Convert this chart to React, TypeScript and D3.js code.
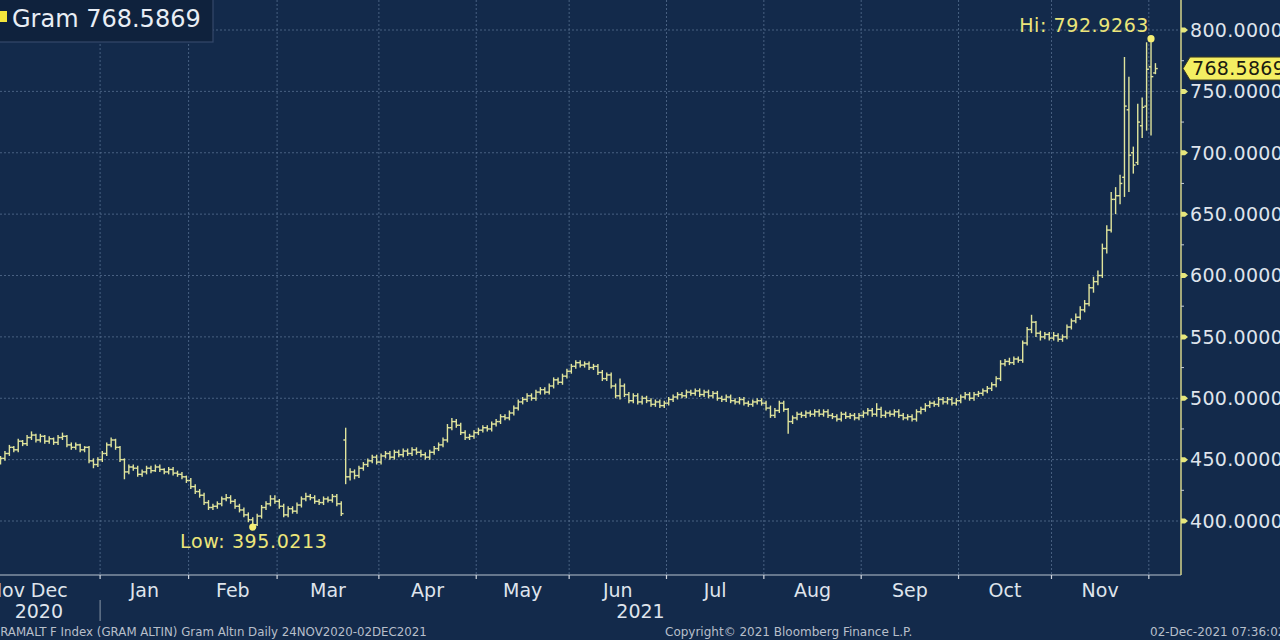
import React from 'react';
import * as d3 from 'd3';

const W = 1280;
const H = 640;

// Trading days (weekdays, Jan 1 2021 excluded) from 24 Nov 2020 to 02 Dec 2021
const tradingDays: Date[] = d3
  .timeDays(new Date(2020, 10, 24), new Date(2021, 11, 3))
  .filter((d) => d.getDay() !== 0 && d.getDay() !== 6 && !(d.getMonth() === 0 && d.getDate() === 1));

const closes = [
  452, 450, 453, 449, 448,
  451, 455, 460, 458, 465, 463, 468, 470, 466, 469, 465, 467, 464, 468, 469, 462, 460, 462, 458, 460, 449, 446, 450,
  455, 462, 466, 460, 450, 440, 444, 443, 438, 440, 443, 441, 444, 442, 440, 442, 439, 438, 436, 433,
  428, 424, 421, 415, 411, 412, 414, 418, 419, 416, 412, 409, 405, 401, 397, 404, 411, 414, 418, 416,
  412, 405, 410, 408, 413, 418, 420, 419, 416, 415, 418, 417, 420, 414, 406, 436, 440, 437, 443, 446, 449, 452, 448,
  453, 455, 452, 456, 454, 457, 455, 458, 456, 454, 452, 456, 459, 462, 466, 476, 481, 478, 472, 468, 469, 472,
  474, 476, 475, 479, 481, 485, 484, 488, 492, 497, 499, 502, 500, 505, 507, 505, 510, 515, 513, 518, 522,
  526, 529, 527, 528, 525, 526, 521, 516, 519, 510, 502, 510, 503, 498, 502, 497, 500, 498, 495, 497, 494, 496,
  499, 501, 503, 502, 505, 504, 506, 503, 505, 502, 504, 500, 499, 501, 498, 497, 499, 496, 495, 497, 498, 496,
  492, 486, 490, 496, 491, 481, 484, 487, 486, 488, 487, 489, 487, 489, 486, 485, 483, 487, 485, 486, 484, 486,
  488, 490, 487, 491, 486, 488, 487, 489, 486, 484, 485, 483, 489, 491, 494, 496, 495, 499, 497, 499, 496, 498,
  501, 503, 500, 503, 504, 506, 508, 511, 516, 528, 530, 529, 532, 531, 545, 556, 562, 553, 550, 552, 549,
  551, 548, 550, 558, 563, 566, 572, 577, 590, 595, 600, 622, 637, 662, 665, 675, 738, 698, 690, 725, 737, 768,
  762, 768.5869,
];

const opens = [
  454, 452, 450, 453, 449,
  448, 451, 455, 460, 458, 465, 463, 468, 470, 466, 469, 465, 467, 464, 468, 469, 462, 460, 462, 458, 460, 449, 446,
  450, 455, 462, 466, 460, 450, 440, 444, 443, 438, 440, 443, 441, 444, 442, 440, 442, 439, 438, 436,
  433, 428, 424, 421, 415, 411, 412, 414, 418, 419, 416, 412, 409, 405, 401, 397, 404, 411, 414, 418,
  416, 412, 405, 410, 408, 413, 418, 420, 419, 416, 415, 418, 417, 420, 414, 466, 436, 440, 437, 443, 446, 449, 452,
  448, 453, 455, 452, 456, 454, 457, 455, 458, 456, 454, 452, 456, 459, 462, 466, 476, 481, 478, 472, 468, 469,
  472, 474, 476, 475, 479, 481, 485, 484, 488, 492, 497, 499, 502, 500, 505, 507, 505, 510, 515, 513, 518,
  522, 526, 529, 527, 528, 525, 526, 521, 516, 519, 510, 502, 510, 503, 498, 502, 497, 500, 498, 495, 497, 494,
  496, 499, 501, 503, 502, 505, 504, 506, 503, 505, 502, 504, 500, 499, 501, 498, 497, 499, 496, 495, 497, 498,
  496, 492, 486, 490, 496, 491, 481, 484, 487, 486, 488, 487, 489, 487, 489, 486, 485, 483, 487, 485, 486, 484,
  486, 488, 490, 487, 491, 486, 488, 487, 489, 486, 484, 485, 483, 489, 491, 494, 496, 495, 499, 497, 499, 496,
  498, 501, 503, 500, 503, 504, 506, 508, 511, 516, 528, 530, 529, 532, 531, 545, 556, 562, 553, 550, 552,
  549, 551, 548, 550, 558, 563, 566, 572, 577, 590, 595, 600, 622, 637, 662, 665, 680, 735, 700, 692, 722, 738,
  770, 765,
];

const highs = [
  456, 454, 455, 454, 451,
  453, 457, 462, 461, 467, 466, 470, 473, 471, 471, 470, 469, 468, 470, 472, 470, 464, 464, 463, 461, 461, 451, 452,
  457, 464, 468, 467, 461, 451, 446, 446, 445, 442, 445, 445, 446, 446, 443, 444, 444, 441, 440, 437,
  435, 430, 426, 423, 417, 414, 416, 420, 422, 421, 418, 414, 411, 407, 403, 406, 413, 416, 421, 421,
  418, 414, 412, 412, 415, 420, 423, 422, 421, 418, 420, 420, 422, 422, 416, 476, 443, 442, 445, 448, 451, 454, 454,
  455, 457, 457, 458, 458, 459, 459, 460, 460, 458, 456, 458, 461, 464, 468, 479, 484, 483, 480, 474, 471, 474,
  476, 478, 478, 481, 483, 487, 487, 490, 494, 499, 501, 504, 504, 507, 509, 509, 512, 517, 517, 520, 524,
  528, 531, 531, 530, 530, 528, 528, 523, 521, 521, 512, 516, 512, 505, 504, 504, 502, 502, 500, 499, 499, 498,
  501, 503, 505, 505, 507, 507, 508, 508, 507, 507, 506, 506, 502, 503, 503, 500, 501, 501, 498, 499, 500, 500,
  498, 494, 492, 498, 498, 492, 486, 489, 489, 490, 490, 491, 491, 491, 491, 488, 487, 489, 489, 488, 488, 488,
  490, 492, 492, 496, 493, 490, 490, 491, 491, 488, 487, 487, 491, 493, 496, 498, 498, 501, 501, 501, 501, 500,
  503, 505, 505, 505, 506, 508, 510, 513, 518, 531, 532, 533, 534, 534, 547, 558, 568, 563, 555, 554, 554,
  554, 553, 552, 560, 565, 569, 575, 580, 593, 599, 604, 626, 641, 668, 672, 682, 778, 762, 705, 740, 745, 790,
  792.9263, 773,
];

const lows = [
  450, 448, 449, 447, 446,
  446, 449, 453, 456, 456, 461, 461, 466, 464, 464, 463, 463, 462, 462, 466, 460, 458, 458, 456, 456, 447, 443, 444,
  448, 453, 460, 458, 448, 434, 438, 441, 436, 436, 438, 439, 440, 440, 438, 438, 437, 436, 434, 431,
  426, 422, 419, 413, 409, 409, 410, 412, 416, 414, 410, 407, 403, 399, 395.0213, 396, 402, 409, 412, 414,
  410, 403, 403, 406, 406, 411, 416, 417, 414, 413, 413, 415, 415, 412, 404, 430, 433, 434, 435, 441, 444, 447, 446,
  446, 451, 450, 450, 452, 452, 453, 453, 454, 452, 450, 450, 454, 457, 460, 464, 474, 476, 470, 466, 466, 467,
  470, 472, 473, 473, 477, 479, 482, 482, 486, 490, 495, 497, 498, 498, 503, 503, 503, 508, 511, 511, 516,
  520, 524, 525, 525, 523, 523, 519, 514, 514, 508, 500, 499, 501, 496, 496, 495, 495, 496, 493, 493, 492, 492,
  494, 497, 499, 500, 500, 502, 502, 501, 501, 500, 500, 498, 497, 497, 496, 495, 495, 494, 493, 493, 495, 494,
  490, 484, 484, 488, 489, 471, 479, 482, 484, 484, 485, 485, 485, 485, 484, 483, 481, 481, 483, 483, 482, 482,
  484, 486, 485, 485, 484, 484, 485, 485, 484, 482, 482, 481, 481, 487, 489, 492, 493, 493, 495, 495, 494, 494,
  496, 499, 498, 498, 501, 502, 504, 506, 509, 514, 526, 527, 527, 529, 529, 543, 553, 550, 547, 548, 547,
  547, 546, 546, 548, 556, 561, 564, 570, 575, 586, 592, 598, 618, 635, 650, 658, 664, 668, 683, 690, 712, 718,
  714, 764,
];

const yTickValues = [400, 450, 500, 550, 600, 650, 700, 750, 800];
const yMinorValues = [425, 475, 525, 575, 625, 675, 725, 775];

const seriesName = 'Gram';
const footerLeft = 'GRAMALT F Index (GRAM ALTIN) Gram Altın  Daily 24NOV2020-02DEC2021';
const footerMid = 'Copyright© 2021 Bloomberg Finance L.P.';
const footerRight = '02-Dec-2021 07:36:02';

const FONT = '"DejaVu Sans", Verdana, sans-serif';
const BG = '#132a4b';
const BAR = '#e0e49c';
const YEL = '#ece57a';

export default function App() {
  const x = d3.scaleLinear().domain([68, 266]).range([279.3, 279.3 + 198 * 4.425]);
  const y = d3.scaleLinear().domain([400, 800]).range([521, 30]);
  const axisX = 1181;
  const axisY = 575;

  const fmtM = d3.timeFormat('%b');
  const months: { name: string; start: number; end: number; year: number }[] = [];
  tradingDays.forEach((d, i) => {
    if (i === 0 || d.getMonth() !== tradingDays[i - 1].getMonth()) {
      months.push({ name: fmtM(d), start: i, end: i, year: d.getFullYear() });
    } else {
      months[months.length - 1].end = i;
    }
  });
  const gx = (i: number) => x(i) - 2.2;
  const n = closes.length;
  const hiIdx = d3.maxIndex(highs);
  const loIdx = d3.minIndex(lows);
  const last = closes[n - 1];
  const lastY = y(last);
  const jan = months.find((m) => m.year === 2021 && m.name === 'Jan')!;

  const tw = 2.3;

  return (
    <svg width={W} height={H} style={{ position: 'fixed', left: 0, top: 0, background: BG }} fontFamily={FONT}>
      <rect x={0} y={0} width={W} height={H} fill={BG} />
      {yTickValues.map((v) => (
        <line key={'hg' + v} x1={0} x2={axisX} y1={y(v)} y2={y(v)} stroke="#5f7899" strokeWidth={1} strokeDasharray="2,2" opacity={0.7} />
      ))}
      {months.slice(1).map((m) => (
        <line key={'vg' + m.start} x1={gx(m.start)} x2={gx(m.start)} y1={0} y2={axisY} stroke="#5f7899" strokeWidth={1} strokeDasharray="2,2" opacity={0.7} />
      ))}
      <g stroke={BAR} strokeWidth={1.4} fill="none">
        {closes.map((c, i) => {
          const xi = x(i);
          return (
            <g key={i}>
              <line x1={xi} x2={xi} y1={y(highs[i])} y2={y(lows[i])} />
              <line x1={xi - tw} x2={xi} y1={y(opens[i])} y2={y(opens[i])} />
              <line x1={xi} x2={xi + tw} y1={y(c)} y2={y(c)} />
            </g>
          );
        })}
      </g>
      <line x1={0} x2={axisX} y1={axisY} y2={axisY} stroke="#b9c3d0" strokeWidth={1.2} />
      {months.slice(1).map((m) => (
        <line key={'xt' + m.start} x1={gx(m.start)} x2={gx(m.start)} y1={axisY} y2={axisY + 4} stroke="#d0d6de" strokeWidth={1.2} />
      ))}
      {months.map((m, k) => {
        if (k === 0) {
          return (
            <text key={'ml' + k} x={25} y={597} fontSize={19} fill="#dfe4ec" textAnchor="end">{m.name}</text>
          );
        }
        if (m.end - m.start < 8) return null;
        const next = months[k + 1];
        const right = next ? gx(next.start) : axisX;
        const cx = (gx(m.start) + right) / 2;
        return (
          <text key={'ml' + k} x={cx} y={597} fontSize={19} fill="#dfe4ec" textAnchor="middle">{m.name}</text>
        );
      })}
      <text x={63} y={618} fontSize={19} fill="#dfe4ec" textAnchor="end">2020</text>
      <text x={(gx(jan.start) + axisX) / 2} y={618} fontSize={19} fill="#dfe4ec" textAnchor="middle">2021</text>
      <line x1={gx(jan.start)} x2={gx(jan.start)} y1={600} y2={621} stroke="#8a97a8" strokeWidth={1} />
      <line x1={axisX} x2={axisX} y1={0} y2={axisY} stroke="#d4d48a" strokeWidth={1.5} />
      {yMinorValues.map((v) => (
        <line key={'mn' + v} x1={axisX} x2={axisX + 3} y1={y(v)} y2={y(v)} stroke="#c7ccd4" strokeWidth={1} />
      ))}
      {yTickValues.map((v) => (
        <g key={'yt' + v}>
          <path d={`M${axisX},${y(v) - 2.5} L${axisX + 4},${y(v) - 2.5} L${axisX + 7},${y(v)} L${axisX + 4},${y(v) + 2.5} L${axisX},${y(v) + 2.5} Z`} fill="#e6e67c" />
          <text x={1190} y={y(v)} dy="0.36em" fontSize={19} fill="#dfe4ec" letterSpacing={0.3}>{d3.format('.4f')(v)}</text>
        </g>
      ))}
      <path d={`M${axisX + 2},${lastY} L${axisX + 9},${lastY - 11.5} L1284,${lastY - 11.5} L1284,${lastY + 11.5} L${axisX + 9},${lastY + 11.5} Z`} fill="#f4ee62" stroke="#3a3a20" strokeWidth={1} />
      <text x={1192} y={lastY} dy="0.36em" fontSize={19} fill="#1b1b10" letterSpacing={0.3}>{d3.format('.4f')(last)}</text>
      <circle cx={x(hiIdx)} cy={y(highs[hiIdx])} r={3.6} fill="#f5ee74" />
      <text x={x(hiIdx) - 2} y={y(highs[hiIdx]) - 7} fontSize={19} fill={YEL} textAnchor="end" letterSpacing={0.6}>{'Hi: ' + d3.format('.4f')(highs[hiIdx])}</text>
      <circle cx={x(loIdx)} cy={y(lows[loIdx])} r={3.6} fill="#f5ee74" />
      <text x={x(loIdx) + 1} y={y(lows[loIdx]) + 21} fontSize={19} fill={YEL} textAnchor="middle" letterSpacing={0.6}>{'Low: ' + d3.format('.4f')(lows[loIdx])}</text>
      <rect x={-2} y={-2} width={215} height={44} fill="#0f223d" stroke="#34496a" strokeWidth={1.2} />
      <rect x={0} y={11} width={7} height={11} fill="#f3e63c" />
      <text x={12} y={27} fontSize={24} fill="#e9eef5">{seriesName + ' ' + d3.format('.4f')(last)}</text>
      <text x={-9} y={636} fontSize={11.8} fill="#b7bfca">{footerLeft}</text>
      <text x={665} y={636} fontSize={12} fill="#b7bfca">{footerMid}</text>
      <text x={1150} y={636} fontSize={12} fill="#b7bfca">{footerRight}</text>
    </svg>
  );
}
